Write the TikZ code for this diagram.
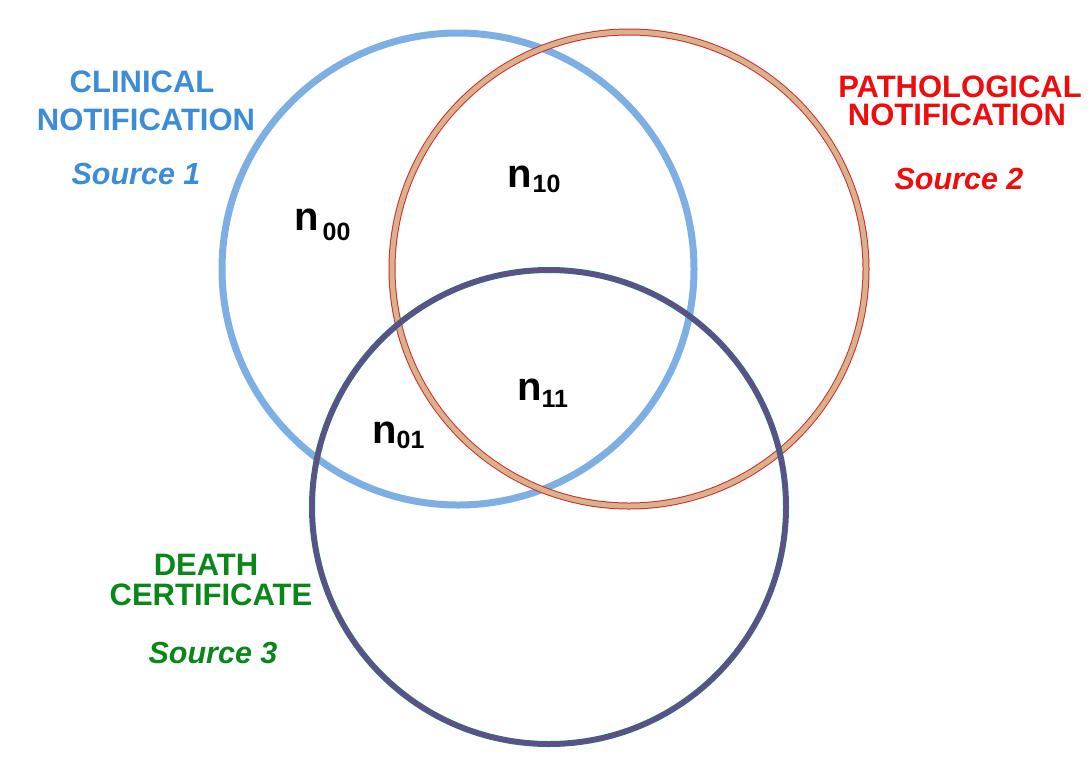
\documentclass[tikz,border=0pt]{standalone}
\usepackage{fontspec}
\setmainfont{Liberation Sans}
\definecolor{blueline}{RGB}{125,175,228}
\definecolor{bluetext}{RGB}{60,140,215}
\definecolor{redtext}{RGB}{238,12,12}
\definecolor{greentext}{RGB}{10,135,25}
\definecolor{redborder}{RGB}{215,40,40}
\definecolor{redfill}{RGB}{215,178,140}
\definecolor{darkborder}{RGB}{40,115,115}
\definecolor{darkfill}{RGB}{100,76,140}
\newcommand\nlab[3]{n\hspace{#3pt}\raisebox{-#2pt}{\fontsize{25}{25}\selectfont #1}}
\tikzset{
  lab/.style={anchor=base, inner sep=0pt, font=\fontsize{31}{36}\selectfont\bfseries},
  srclab/.style={anchor=base, inner sep=0pt, font=\fontsize{30.5}{35}\selectfont\bfseries\itshape},
  nl/.style={anchor=base west, inner sep=0pt, font=\fontsize{40}{40}\selectfont\bfseries}
}
\begin{document}
\begin{tikzpicture}[x=1pt,y=-1pt]
\useasboundingbox (0,0) rectangle (1092,774);
% circles
\draw[blueline, line width=7pt] (458,269) circle (236);
\draw[redborder, line width=7pt] (629,269) circle (237);
\draw[redfill, line width=5pt] (629,269) circle (237);
\draw[darkborder, line width=6pt] (549,507) circle (237);
\draw[darkfill, line width=4pt] (549,507) circle (237);
% source 1
\node[lab, text=bluetext] (c1) at (142,92) {CLINICAL};
\node[lab, text=bluetext] (c2) at (146,130) {NOTIFICATION};
\node[srclab, text=bluetext] (s1) at (136,184) {Source 1};
% source 2
\node[lab, text=redtext] (p1) at (960,97) {PATHOLOGICAL};
\node[lab, text=redtext] (p2) at (957,125) {NOTIFICATION};
\node[srclab, text=redtext] (s2) at (959,189) {Source 2};
% source 3
\node[lab, text=greentext] (d1) at (206,575) {DEATH};
\node[lab, text=greentext] (d2) at (211,605) {CERTIFICATE};
\node[srclab, text=greentext] (s3) at (213,663) {Source 3};
% region labels
\node[nl] (n00) at (294,230) {\nlab{00}{10}{4}};
\node[nl] (n10) at (507,187) {\nlab{10}{5}{1}};
\node[nl] (n11) at (517,400) {\nlab{11}{7}{0}};
\node[nl] (n01) at (372,443) {\nlab{01}{5}{0}};
\end{tikzpicture}
\end{document}
